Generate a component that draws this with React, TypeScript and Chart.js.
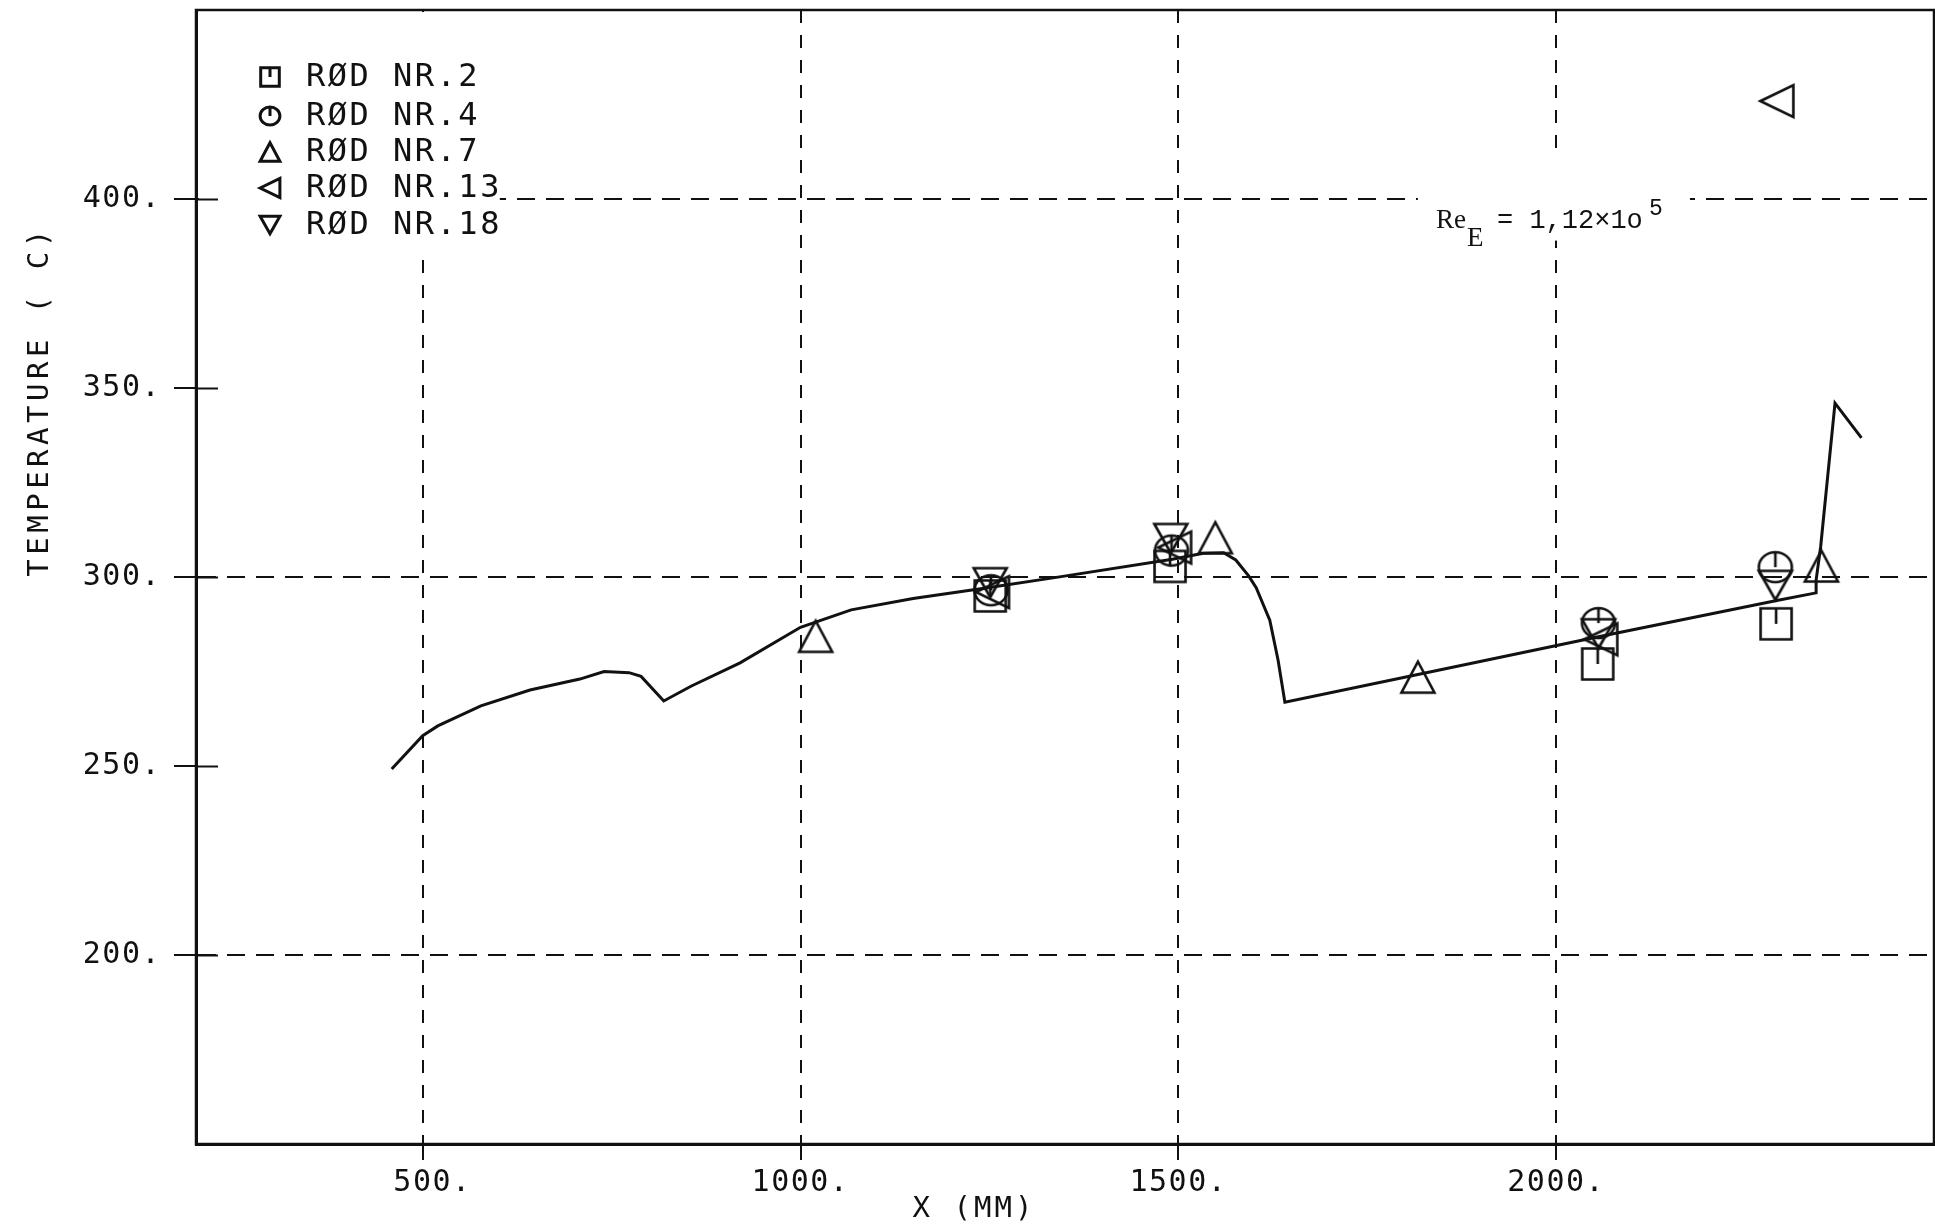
import React, { useEffect, useRef } from 'react';
import { Chart, registerables } from 'chart.js';

Chart.register(...registerables);

// ---- axis ranges & ticks ----
const X_MIN = 200;
const X_MAX = 2500;
const Y_MIN = 150;
const Y_MAX = 450;
const X_TICKS = [500, 1000, 1500, 2000];
const Y_TICKS = [200, 250, 300, 350, 400];
const Y_GRID = [200, 300, 400];

// ---- calculated curve ----
const CURVE_X = [459, 500, 520, 577, 642, 708, 740, 773, 789, 819, 855, 920, 1000, 1067, 1149, 1252, 1345, 1492, 1533, 1560, 1576, 1593, 1603, 1621, 1632, 1641, 1817, 2056, 2292, 2344, 2344, 2350, 2369, 2404];
const CURVE_Y = [249.2, 258.0, 260.6, 265.9, 270.1, 273.0, 275.0, 274.7, 273.7, 267.2, 271.1, 277.3, 286.7, 291.3, 294.3, 297.3, 300.1, 304.7, 306.3, 306.4, 304.5, 300.3, 297.2, 288.6, 278.0, 266.9, 274.2, 284.2, 293.8, 295.8, 299.2, 308.0, 346.0, 336.8];

// ---- measured rods ----
const ROD2_X = [1251, 1489, 2055, 2291];
const ROD2_Y = [295.0, 302.8, 277.0, 287.6];
const ROD4_X = [1252, 1491, 2056, 2290];
const ROD4_Y = [296.5, 307.0, 287.8, 302.6];
const ROD7_X = [1020, 1549, 1817, 2351];
const ROD7_Y = [284.3, 310.4, 273.5, 302.9];
const ROD13_X = [1254, 1495, 2059, 2292];
const ROD13_Y = [296.0, 307.8, 283.5, 425.9];
const ROD18_X = [1251, 1490, 2056, 2290];
const ROD18_Y = [298.5, 310.2, 285.0, 297.8];

const ROD_LABELS = ['RØD NR.2', 'RØD NR.4', 'RØD NR.7', 'RØD NR.13', 'RØD NR.18'];
const ROD_KINDS = ['square', 'circle', 'up', 'left', 'down'];

const X_TITLE = 'X (MM)';
const Y_TITLE = 'TEMPERATURE ( C)';

const INK = '#111';
const MONO = '"DejaVu Sans Mono"';

function makeMarker(kind: string, s: number, lw: number): HTMLCanvasElement {
  const size = Math.ceil(40 * s) + 6;
  const c = document.createElement('canvas');
  c.width = size;
  c.height = size;
  const g = c.getContext('2d')!;
  g.translate(size / 2, size / 2);
  g.scale(s, s);
  g.strokeStyle = INK;
  g.lineWidth = lw / s;
  g.beginPath();
  switch (kind) {
    case 'square':
      g.rect(-15.5, -15.5, 31, 31);
      g.moveTo(0, -15.5);
      g.lineTo(0, 0);
      break;
    case 'circle':
      g.ellipse(0, 0, 16.5, 15, 0, 0, Math.PI * 2);
      g.moveTo(0, -15);
      g.lineTo(0, 0);
      break;
    case 'up':
      g.moveTo(0, -15.5);
      g.lineTo(16.5, 15.5);
      g.lineTo(-16.5, 15.5);
      g.closePath();
      break;
    case 'left':
      g.moveTo(-16.5, 0);
      g.lineTo(16.5, -16);
      g.lineTo(16.5, 16);
      g.closePath();
      break;
    case 'down':
      g.moveTo(-16.5, -14.5);
      g.lineTo(16.5, -14.5);
      g.lineTo(0, 14.5);
      g.closePath();
      break;
  }
  g.stroke();
  return c;
}

export default function App() {
  const ref = useRef<HTMLCanvasElement | null>(null);

  useEffect(() => {
    document.body.style.margin = '0';
    document.body.style.overflow = 'hidden';
    const canvas = ref.current;
    if (!canvas) return;

    const markers = ROD_KINDS.map((k) => makeMarker(k, 1, 2.6));
    const legendMarkers = ROD_KINDS.map((k) => makeMarker(k, 0.6, 3));

    const rodX = [ROD2_X, ROD4_X, ROD7_X, ROD13_X, ROD18_X];
    const rodY = [ROD2_Y, ROD4_Y, ROD7_Y, ROD13_Y, ROD18_Y];

    const decorPlugin = {
      id: 'decor',
      beforeDraw(chart: any) {
        (chart.ctx as any).letterSpacing = '1.5px';
      },
      beforeDatasetsDraw(chart: any) {
        const ctx = chart.ctx;
        const xs = chart.scales.x;
        const ys = chart.scales.y;
        ctx.save();
        ctx.fillStyle = '#fff';
        // blank area behind legend
        const lx0 = chart.chartArea.left + 3;
        ctx.fillRect(lx0, chart.chartArea.top + 2, xs.getPixelForValue(602) - lx0, ys.getPixelForValue(384) - chart.chartArea.top - 2);
        // blank area behind Re annotation
        const rx0 = xs.getPixelForValue(1817);
        const rx1 = xs.getPixelForValue(2177);
        const ry0 = ys.getPixelForValue(412);
        const ry1 = ys.getPixelForValue(389);
        ctx.fillRect(rx0, ry0, rx1 - rx0, ry1 - ry0);
        ctx.restore();
      },
      afterDatasetsDraw(chart: any) {
        const ctx = chart.ctx;
        const ys = chart.scales.y;
        const left = chart.chartArea.left;
        ctx.save();
        ctx.strokeStyle = INK;
        ctx.lineWidth = 2;
        ctx.setLineDash([]);
        for (const v of Y_TICKS) {
          const y = Math.round(ys.getPixelForValue(v)) + 0.5;
          ctx.beginPath();
          ctx.moveTo(left, y);
          ctx.lineTo(left + 22, y);
          ctx.stroke();
        }
        ctx.restore();
      },
      afterDraw(chart: any) {
        const ctx = chart.ctx;
        const a = chart.chartArea;
        ctx.save();
        // frame
        ctx.strokeStyle = INK;
        ctx.lineWidth = 2.5;
        ctx.setLineDash([]);
        ctx.strokeRect(a.left, a.top, a.right - a.left, a.bottom - a.top);

        ctx.fillStyle = INK;
        // legend
        const rowY = [77, 116, 152, 188, 225];
        ctx.font = `32px ${MONO}`;
        (ctx as any).letterSpacing = '2.5px';
        ctx.textAlign = 'left';
        ctx.textBaseline = 'middle';
        ROD_LABELS.forEach((lab, i) => {
          const m = legendMarkers[i];
          ctx.drawImage(m, 270 - m.width / 2, rowY[i] - m.height / 2);
          ctx.fillText(lab, 306, rowY[i] + 1);
        });

        // Re annotation
        (ctx as any).letterSpacing = '0px';
        ctx.textBaseline = 'alphabetic';
        ctx.font = '27px "Liberation Serif"';
        ctx.fillText('Re', 1436, 228);
        ctx.fillText('E', 1467, 246);
        ctx.font = '27px "Liberation Mono"';
        ctx.fillText('= 1,12×1o', 1497, 228);
        ctx.font = '23px "Liberation Mono"';
        ctx.fillText('5', 1649, 215);

        // axis titles
        ctx.font = `29px ${MONO}`;
        (ctx as any).letterSpacing = '4.5px';
        ctx.textAlign = 'center';
        ctx.textBaseline = 'middle';
        ctx.save();
        ctx.translate(40, 401);
        ctx.rotate(-Math.PI / 2);
        ctx.fillText(Y_TITLE, 0, 0);
        ctx.restore();
        (ctx as any).letterSpacing = '3px';
        ctx.fillText(X_TITLE, 974, 1209);
        ctx.restore();
      },
    };

    const datasets: any[] = [
      {
        type: 'line',
        label: 'curve',
        data: CURVE_X.map((x, i) => ({ x, y: CURVE_Y[i] })),
        borderColor: INK,
        borderWidth: 3,
        pointRadius: 0,
        showLine: true,
        fill: false,
        tension: 0,
      },
      ...ROD_LABELS.map((lab, i) => ({
        type: 'scatter',
        label: lab,
        data: rodX[i].map((x, j) => ({ x, y: rodY[i][j] })),
        pointStyle: markers[i],
        pointRadius: 16,
        borderColor: INK,
        backgroundColor: 'transparent',
        showLine: false,
      })),
    ];

    const chart = new Chart(canvas, {
      type: 'scatter',
      data: { datasets },
      options: {
        responsive: false,
        animation: false,
        events: [],
        layout: { autoPadding: false, padding: { top: 10, right: 1, left: 0, bottom: 0 } },
        plugins: {
          legend: { display: false },
          tooltip: { enabled: false },
          title: { display: false },
        },
        scales: {
          x: {
            type: 'linear',
            min: X_MIN,
            max: X_MAX,
            afterBuildTicks: (s: any) => {
              s.ticks = X_TICKS.map((v) => ({ value: v }));
            },
            afterFit: (s: any) => {
              s.height = 82;
              s.paddingLeft = 0;
              s.paddingRight = 0;
            },
            grid: {
              color: INK,
              lineWidth: 2,
              drawTicks: true,
              tickLength: 16,
              tickColor: INK,
              tickWidth: 2,
            },
            border: { display: true, color: INK, width: 3, dash: [13, 12] },
            ticks: {
              font: { family: 'DejaVu Sans Mono', size: 30 },
              color: INK,
              padding: 5,
              maxRotation: 0,
              autoSkip: false,
              callback: (v: any) => `${v}.`.padStart(5, ' '),
            },
          },
          y: {
            type: 'linear',
            min: Y_MIN,
            max: Y_MAX,
            afterBuildTicks: (s: any) => {
              s.ticks = Y_TICKS.map((v) => ({ value: v }));
            },
            afterFit: (s: any) => {
              s.width = 196;
              s.paddingTop = 0;
              s.paddingBottom = 0;
            },
            grid: {
              color: (c: any) => (c.tick && Y_GRID.includes(c.tick.value) ? INK : 'rgba(0,0,0,0)'),
              lineWidth: 2,
              drawTicks: true,
              tickLength: 22,
              tickColor: INK,
              tickWidth: 2,
            },
            border: { display: true, color: INK, width: 3, dash: [18, 11] },
            ticks: {
              font: { family: 'DejaVu Sans Mono', size: 30 },
              color: INK,
              padding: 13,
              autoSkip: false,
              callback: (v: any) => `${v}.`,
            },
          },
        },
      } as any,
      plugins: [decorPlugin],
    });

    return () => {
      chart.destroy();
    };
  }, []);

  return (
    <div style={{ position: 'absolute', left: 0, top: 0, width: 1935, height: 1226, background: '#fff' }}>
      <canvas ref={ref} width={1935} height={1226} style={{ display: 'block' }} />
    </div>
  );
}
